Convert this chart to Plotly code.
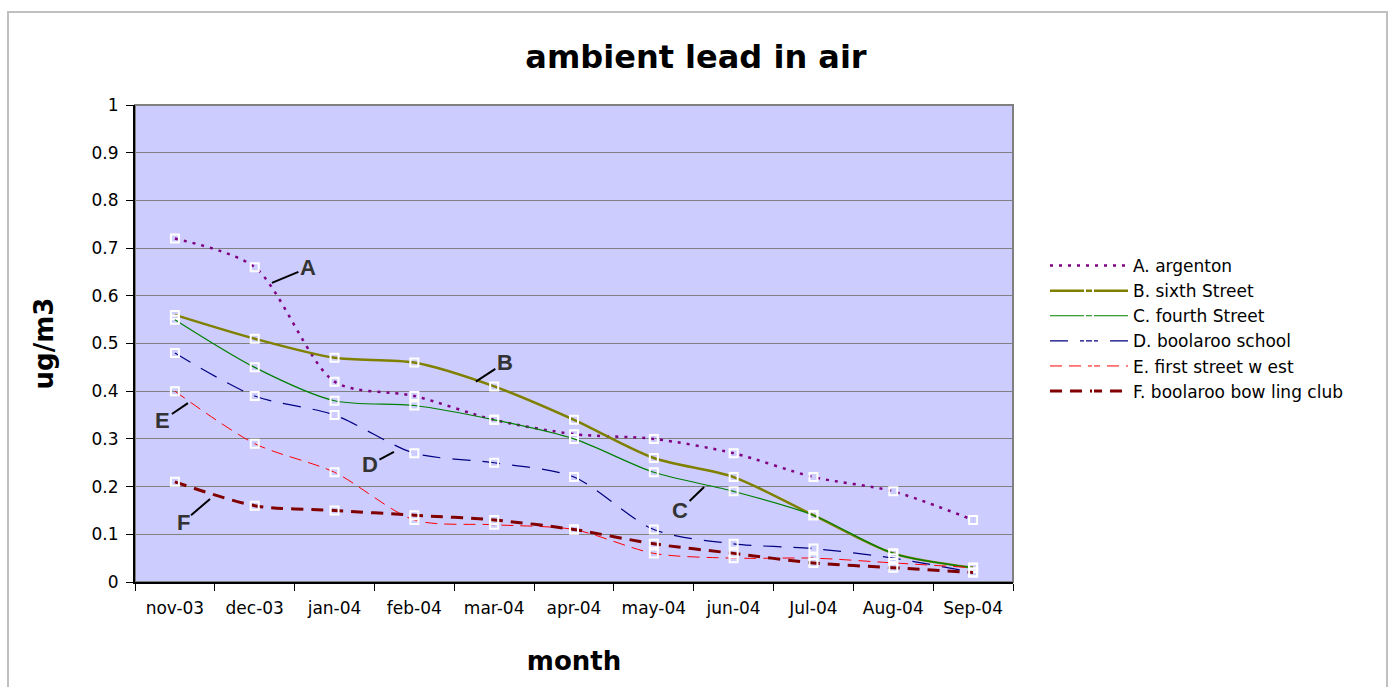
import plotly.graph_objects as go

months = ["nov-03", "dec-03", "jan-04", "feb-04", "mar-04", "apr-04",
          "may-04", "jun-04", "Jul-04", "Aug-04", "Sep-04"]
argenton = [0.72, 0.66, 0.42, 0.39, 0.34, 0.31, 0.30, 0.27, 0.22, 0.19, 0.13]
sixth_street = [0.56, 0.51, 0.47, 0.46, 0.41, 0.34, 0.26, 0.22, 0.14, 0.06, 0.03]
fourth_street = [0.55, 0.45, 0.38, 0.37, 0.34, 0.30, 0.23, 0.19, 0.14, 0.06, 0.03]
boolaroo_school = [0.48, 0.39, 0.35, 0.27, 0.25, 0.22, 0.11, 0.08, 0.07, 0.05, 0.02]
first_street_west = [0.40, 0.29, 0.23, 0.13, 0.12, 0.11, 0.06, 0.05, 0.05, 0.04, 0.03]
bowling_club = [0.21, 0.16, 0.15, 0.14, 0.13, 0.11, 0.08, 0.06, 0.04, 0.03, 0.02]
y_ticks = [0, 0.1, 0.2, 0.3, 0.4, 0.5, 0.6, 0.7, 0.8, 0.9, 1]
y_tick_labels = ["0", "0.1", "0.2", "0.3", "0.4", "0.5", "0.6", "0.7", "0.8", "0.9", "1"]

names = ["A. argenton", "B. sixth Street", "C. fourth Street",
         "D. boolaroo school", "E. first street w est", "F. boolaroo bow ling club"]
series = [argenton, sixth_street, fourth_street, boolaroo_school, first_street_west, bowling_club]
colors = ["#800080", "#808000", "#008000", "#000080", "#FF0000", "#800000"]
widths = [2.5, 2.5, 1.2, 1.2, 1.0, 3.0]
dashes = ["3px,6px", "solid", "solid", "18px,12px", "12px,7px", "12px,8px"]

W, H = 1391, 687
L, R, T, B = 135, 1013, 105, 582
FONT = "DejaVu Sans"

fig = go.Figure()
for name, vals, c, w, d in zip(names, series, colors, widths, dashes):
    fig.add_trace(go.Scatter(
        x=months, y=vals, name=name, mode="lines+markers",
        line=dict(color=c, width=w, dash=d, shape="spline", smoothing=0.8),
        marker=dict(symbol="square-open", size=8, color="white",
                    line=dict(color="white", width=2)),
    ))

def px_x(p):
    return (p - L) / (R - L)

def px_y(p):
    return (B - p) / (B - T)

shapes = [
    dict(type="rect", xref="paper", yref="paper",
         x0=px_x(8), x1=px_x(1387), y0=px_y(720), y1=px_y(12),
         line=dict(color="#C0C0C0", width=2), layer="below"),
    dict(type="rect", xref="paper", yref="paper", x0=0, x1=1, y0=0, y1=1,
         line=dict(color="#808080", width=2), layer="below"),
]

# label annotations: (label, tip x index, tip y value, ax, ay)
labels = [
    ("A", 1.215, 0.627, 36, -15),
    ("B", 3.77, 0.42, 29, -19),
    ("C", 6.63, 0.199, -24, 23),
    ("D", 2.744, 0.273, -24, 13),
    ("E", 0.163, 0.375, -25, 17),
    ("F", 0.44, 0.174, -27, 23),
]
annotations = []
for lab, xi, yv, ax, ay in labels:
    annotations.append(dict(
        x=xi, y=yv, xref="x", yref="y", text="<b>%s</b>" % lab,
        showarrow=True, arrowhead=0, arrowwidth=2, arrowcolor="black",
        ax=ax, ay=ay, standoff=0, startstandoff=0,
        font=dict(family="Liberation Sans, Arial", size=22, color="#333333"),
    ))

fig.update_layout(
    width=W, height=H,
    margin=dict(l=L, r=W - R, t=T, b=H - B),
    paper_bgcolor="white", plot_bgcolor="#CCCCFF",
    title=dict(text="<b>ambient lead in air</b>", x=(696 / W), xanchor="center",
               y=1 - 57 / H, yanchor="middle",
               font=dict(family=FONT, size=32, color="black")),
    font=dict(family=FONT, size=17, color="black"),
    showlegend=True,
    legend=dict(x=px_x(1045), y=px_y(248), xanchor="left", yanchor="top",
                bgcolor="rgba(0,0,0,0)", font=dict(family=FONT, size=17, color="black"),
                tracegroupgap=0, itemwidth=78),
    shapes=shapes,
    annotations=annotations,
)
fig.update_xaxes(
    type="category", showgrid=False, showline=True, linecolor="black", linewidth=2,
    ticks="outside", tickson="boundaries", ticklen=7, tickcolor="black",
    ticklabelstandoff=10,
    tickfont=dict(family=FONT, size=17), range=[-0.5, 10.5],
    title=dict(text="<b>month</b>", font=dict(family=FONT, size=26), standoff=34),
)
fig.update_yaxes(
    range=[0, 1], tickvals=y_ticks, ticktext=y_tick_labels,
    showgrid=True, gridcolor="#808080", gridwidth=1,
    showline=True, linecolor="black", linewidth=2, zeroline=False,
    ticks="outside", ticklen=7, tickcolor="black", tickfont=dict(family=FONT, size=17),
    ticklabelstandoff=4,
    title=dict(text="<b>ug/m3</b>", font=dict(family=FONT, size=26), standoff=30),
)

fig.write_html("out.html", config={"displayModeBar": False},
               post_script="document.body.style.margin='0';")
